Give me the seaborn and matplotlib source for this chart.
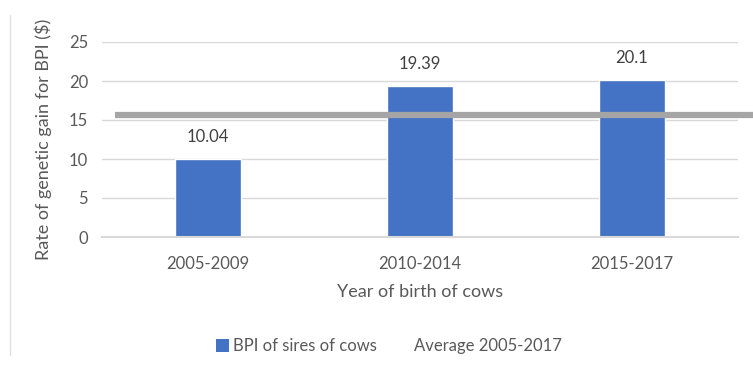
import matplotlib
matplotlib.use("Agg")
import matplotlib.pyplot as plt
from matplotlib.patches import Patch
from matplotlib.lines import Line2D
import seaborn as sns
import pandas as pd

periods = ["2005-2009", "2010-2014", "2015-2017"]
bpi_gain = [10.04, 19.39, 20.1]
average_gain = 15.7
bar_label = "BPI of sires of cows"
avg_label = "Average 2005-2017"

sns.set_theme(style="white")
plt.rcParams["font.family"] = ["Lato", "DejaVu Sans"]

text_color = "#595959"
bar_color = "#4472C4"
avg_color = "#A5A5A5"
grid_color = "#D9D9D9"

df = pd.DataFrame({"period": periods, "gain": bpi_gain})

fig = plt.figure(figsize=(7.53, 3.65), dpi=100)
ax = fig.add_axes([102 / 753, 128 / 365, 636 / 753, 195 / 365])

sns.barplot(data=df, x="period", y="gain", color=bar_color, width=0.31,
            saturation=1, ax=ax, zorder=2)

# average line spanning the plot
ax.plot([-0.44, 2.57], [average_gain, average_gain], color=avg_color,
        linewidth=4.5, solid_capstyle="butt", clip_on=False, zorder=3)

ax.set_ylim(0, 25)
ax.set_xlim(-0.5, 2.5)
ax.set_yticks(range(0, 26, 5))
ax.yaxis.grid(True, color=grid_color, linewidth=1)
ax.set_axisbelow(True)
for side in ["top", "right", "left"]:
    ax.spines[side].set_visible(False)
ax.spines["bottom"].set_color(grid_color)
ax.spines["bottom"].set_linewidth(1.5)
ax.tick_params(axis="y", length=0, labelsize=12, labelcolor=text_color, pad=10)
ax.tick_params(axis="x", length=0, labelsize=12, labelcolor=text_color, pad=14)

for i, v in enumerate(bpi_gain):
    ax.annotate(f"{v:g}", (i, v), xytext=(0, 10), textcoords="offset points",
                ha="center", va="bottom", fontsize=12, color="#404040")

ax.set_xlabel("Year of birth of cows", fontsize=13, color=text_color, labelpad=8)
ax.set_ylabel("Rate of genetic gain for BPI ($)", fontsize=13, color=text_color,
              labelpad=12)

handles = [Patch(facecolor=bar_color, edgecolor="none"),
           Line2D([], [], color="none")]
fig.legend(handles, [bar_label, avg_label], loc="center", bbox_to_anchor=(389 / 753, 1 - 346 / 365),
           ncol=2, frameon=False, fontsize=12, labelcolor=text_color,
           handlelength=0.8, handleheight=0.8, handletextpad=0.25, columnspacing=1.2)

# chart frame edge on the left
fig.add_artist(Line2D([10 / 753, 10 / 753], [10 / 365, 1 - 15 / 365],
                      transform=fig.transFigure, color="#E0E0E0", linewidth=1))

fig.savefig("out.png", dpi=100, facecolor="white")
